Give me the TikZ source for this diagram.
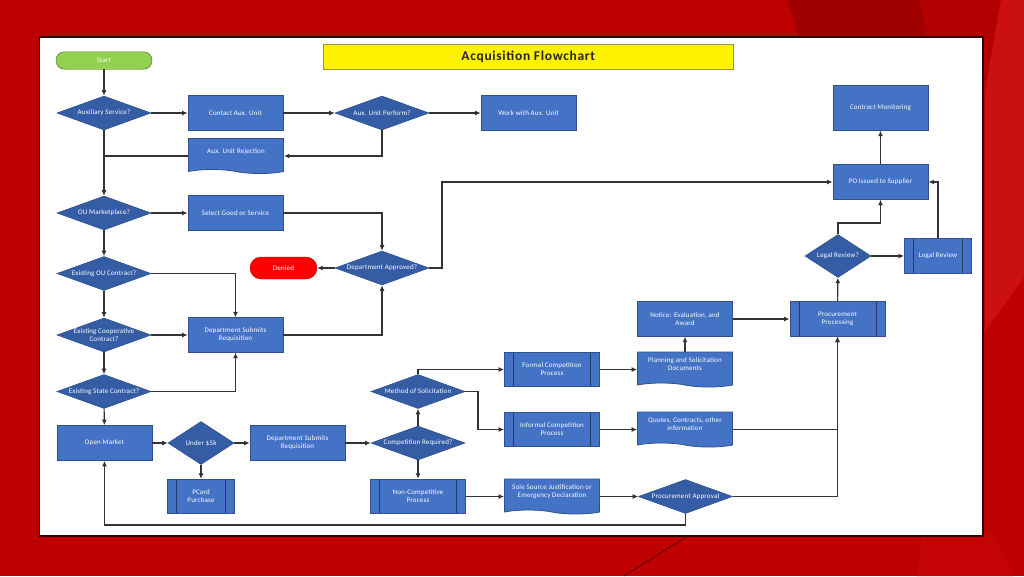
\documentclass[tikz,border=0pt]{standalone}
\usepackage{fontspec}
\setmainfont[LetterSpace=2.5]{Carlito}
\newfontfamily\titlefont[LetterSpace=5]{Carlito}
\usetikzlibrary{shapes}
\usetikzlibrary{arrows.meta}
\definecolor{slidered}{HTML}{BF0000}
\definecolor{slidedark}{HTML}{A00000}
\definecolor{slidemid}{HTML}{B30000}
\definecolor{slidelight}{HTML}{CB1010}
\definecolor{slidesoft}{HTML}{C40404}
\definecolor{boxblue}{HTML}{4472C4}
\definecolor{diablue}{HTML}{345DA6}
\definecolor{edgeblue}{HTML}{2F528F}
\definecolor{startgreen}{HTML}{92D050}
\tikzset{
    boxn/.style = {rectangle, draw=edgeblue, fill=boxblue, text=white, align=center, font=\fontsize{7}{8}\selectfont, minimum width=95pt, minimum height=34.5pt, inner sep=0pt, line width=0.8pt},
    boxp/.style = {boxn, path picture={
        \draw[edgeblue!70!black,line width=1pt] ([xshift=9pt]path picture bounding box.north west) -- ([xshift=9pt]path picture bounding box.south west);
        \draw[edgeblue!70!black,line width=1pt] ([xshift=-9pt]path picture bounding box.north east) -- ([xshift=-9pt]path picture bounding box.south east);}},
    boxd/.style = {boxn, shape=tape, tape bend top=none, tape bend bottom=out and in, tape bend height=4pt, text depth=6pt, minimum height=35pt},
    dia/.style = {diamond, draw=edgeblue, fill=diablue, text=white, align=center, font=\fontsize{7}{8}\selectfont, aspect=2.8, minimum width=94pt, minimum height=34pt, inner sep=0pt, line width=0.6pt},
    dias/.style = {dia, aspect=1.53, minimum width=66pt, minimum height=43pt},
    term/.style = {rectangle, rounded corners=8.5pt, text=white, font=\fontsize{7}{8}\selectfont, inner sep=0pt},
    edgen/.style = {-{Latex[length=5.5pt,width=5pt]}, line width=1.1pt, draw=black!80},
}
\begin{document}
\begin{tikzpicture}[x=1pt,y=-1pt]
\useasboundingbox (0,0) rectangle (1024,576);
% slide
\fill[slidered] (0,0) rectangle (1024,576);
\fill[slidedark] (787,0) -- (920,0) -- (927,40) -- (800,40) -- cycle;
\fill[slidemid] (920,0) -- (1001,0) -- (985,90) -- (985,37) -- (927,37) -- cycle;
\fill[slidelight] (1001,0) -- (1024,0) -- (1024,277) -- (985,332) -- (985,90) -- cycle;
\fill[slidesoft] (917,576) -- (923,530) -- (990,530) -- (1013,576) -- cycle;
\node[rectangle, fill=white, draw=black!80!red, line width=1.5pt, minimum width=943.5pt, minimum height=499pt, inner sep=0pt] at (511.25,286.5) (panel) {};
\coordinate (cuta) at (686,537);
\coordinate (cutb) at (624,576);
\draw[black!75!red, line width=0.6pt] (cuta) -- (cutb);
%
\node[rectangle, fill=yellow, draw=yellow!55!black, line width=0.8pt, minimum width=409.5pt, minimum height=25pt, inner sep=0pt, text=black!85, font=\fontsize{13.5}{15}\titlefont\bfseries] at (528.25,56.5) (title) {Acquisition Flowchart};
\node[term, fill=startgreen, draw=startgreen!50!black, minimum width=96pt, minimum height=17.5pt] at (104,60.5) (start) {Start};
\node[term, fill=red, draw=red!75!black, minimum width=67pt, minimum height=22pt, rounded corners=11pt] at (283.5,268) (denied) {Denied};
%
\node[dia] at (104,113) (aux) {Auxiliary Service?};
\node[boxn] at (235.5,113) (contact) {Contact Aux. Unit};
\node[dia] at (382,113) (perform) {Aux. Unit Perform?};
\node[boxn] at (528.5,113) (work) {Work with Aux. Unit};
\node[boxd] at (236,154) (reject) {Aux. Unit Rejection};
\node[dia] at (104,213) (market) {OU Marketplace?};
\node[boxn] at (235.5,213) (select) {Select Good or Service};
\node[dia] at (382,268) (approved) {Department Approved?};
\node[dia] at (104,273.5) (existou) {Existing OU Contract?};
\node[dia] at (104,335) (existco) {\makebox[58pt]{Existing Cooperative}\\Contract?};
\node[boxn] at (235.5,335) (submit) {Department Submits\\Requisition};
\node[dia] at (104,391.5) (existst) {\makebox[66pt]{Existing State Contract?}};
\node[boxn, minimum height=35pt] at (104.5,443) (open) {Open Market};
\node[dias] at (201,443) (under) {Under \$5k};
\node[boxp, minimum width=67pt] at (201,496.5) (pcard) {PCard\\Purchase};
\node[boxn] at (297.5,443) (submitb) {Department Submits\\Requisition};
\node[dia] at (418,443) (compete) {\makebox[66pt]{Competition Required?}};
\node[dia] at (418,391.5) (method) {Method of Solicitation};
\node[boxp] at (418,496.5) (noncomp) {Non-Competitive\\Process};
\node[boxp] at (552,369.5) (formal) {Formal Competition\\Process};
\node[boxp] at (552,429.5) (informal) {Informal Competition\\Process};
\node[boxd] at (685,367.5) (planning) {Planning and Solicitation\\Documents};
\node[boxd] at (685,427.5) (quotes) {Quotes, Contracts, other\\information};
\node[boxd] at (552,494.5) (sole) {Sole Source Justification or\\Emergency Declaration};
\node[dia] at (685.5,496.5) (appr) {\makebox[66pt]{Procurement Approval}};
\node[boxn] at (685,319) (notice) {Notice: Evaluation, and\\Award};
\node[boxp] at (837.5,319) (procure) {Procurement\\Processing};
\node[dias] at (838,256) (legalq) {Legal Review?};
\node[boxp, minimum width=67pt] at (938,256) (legal) {Legal Review};
\node[boxn] at (880.5,182) (po) {PO Issued to Supplier};
\node[boxn, minimum height=44.5pt] at (880.5,108) (monitor) {Contract Monitoring};
%
\coordinate (apprbend) at (442,268);
\coordinate (methbend) at (478,391.5);
\coordinate (legalbend) at (838,223);
\coordinate (backbend) at (685.5,525);
\coordinate (rejbend) at (104,156);
%
\draw[edgen] (start) edge node {} (aux);
\draw[edgen] (aux) edge node {} (contact);
\draw[edgen] (contact) edge node {} (perform);
\draw[edgen] (perform) edge node {} (work);
\draw[edgen] (perform.south) |- (rejbend -| reject.east);
\draw[edgen,-] (rejbend -| reject.west) -- (rejbend);
\draw[edgen] (aux) edge node {} (market);
\draw[edgen] (market) edge node {} (select);
\draw[edgen] (select.east) -| (approved.north);
\draw[edgen] (approved) edge node {} (denied);
\draw[edgen] (approved.east) -- (apprbend) |- (po.west);
\draw[edgen] (market) edge node {} (existou);
\draw[edgen] (existou.east) -| (submit.north);
\draw[edgen] (existou) edge node {} (existco);
\draw[edgen] (existco) edge node {} (submit);
\draw[edgen] (existco) edge node {} (existst);
\draw[edgen] (existst.east) -| (submit.south);
\draw[edgen] (submit.east) -| (approved.south);
\draw[edgen] (existst) edge node {} (open);
\draw[edgen] (open) edge node {} (under);
\draw[edgen] (under) edge node {} (submitb);
\draw[edgen] (under) edge node {} (pcard);
\draw[edgen] (submitb) edge node {} (compete);
\draw[edgen] (compete) edge node {} (method);
\draw[edgen] (compete) edge node {} (noncomp);
\draw[edgen] (method.north) |- (formal.west);
\draw[edgen] (method.east) -- (methbend) |- (informal.west);
\draw[edgen] (formal.east) -- (formal -| planning.west);
\draw[edgen] (informal.east) -- (informal -| quotes.west);
\draw[edgen] (planning.north) -- (notice.south);
\draw[edgen] (notice) edge node {} (procure);
\draw[edgen] (noncomp.east) -- (noncomp -| sole.west);
\draw[edgen] (appr -| sole.east) -- (appr.west);
\draw[edgen] (informal -| quotes.east) -| (procure.south);
\draw[edgen] (appr.east) -| (procure.south);
\draw[edgen] (appr.south) -- (backbend) -| (open.south);
\draw[edgen] (procure) edge node {} (legalq);
\draw[edgen] (legalq) edge node {} (legal);
\draw[edgen] (legalq.north) -- (legalbend) -| (po.south);
\draw[edgen] (legal.north) |- (po.east);
\draw[edgen] (po) edge node {} (monitor);
\end{tikzpicture}
\end{document}
